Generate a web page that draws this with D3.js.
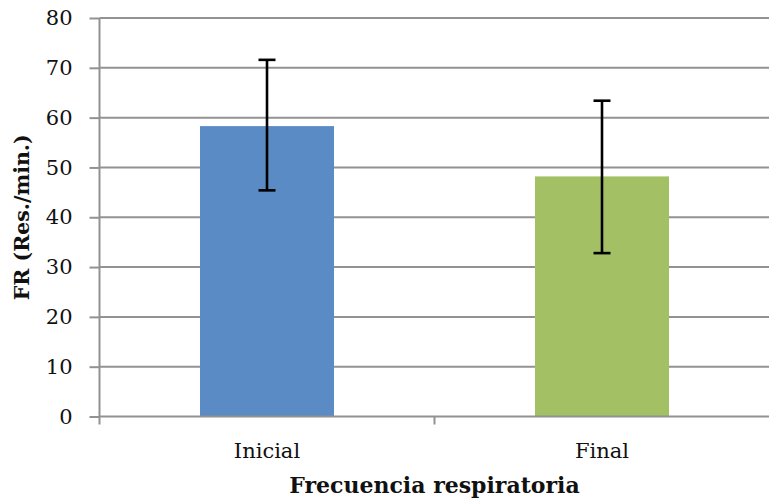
<!DOCTYPE html>
<html>
<head>
<meta charset="utf-8">
<script src="https://cdn.jsdelivr.net/npm/d3@7"></script>
<style>
  body { margin: 0; background: #fff; }
  .axis text { font-family: "DejaVu Serif", serif; font-size: 21px; fill: #111; }
  .axis path, .axis line { stroke: #929292; stroke-width: 2; }
</style>
</head>
<body>
<div id="chart"></div>
<script>
// data
var categories = ["Inicial", "Final"];
var means = [58.3, 48.2];
var errLow = [45.4, 32.8];
var errHigh = [71.6, 63.4];
var barColors = ["#5b8bc4", "#a3c164"];
var yTicks = [0, 10, 20, 30, 40, 50, 60, 70, 80];

var W = 769, H = 501;
var mLeft = 99.5, mRight = 769.5, mTop = 18, mBottom = 416.5;

var svg = d3.select("#chart").append("svg")
  .attr("width", W)
  .attr("height", H);

var y = d3.scaleLinear().domain([0, 80]).range([mBottom, mTop]);
var x = d3.scaleBand().domain(categories).range([mLeft, mRight])
  .paddingInner(0.6).paddingOuter(0.3);
var xb = d3.scaleBand().domain(categories).range([mLeft, mRight]); // full bands for tick marks

// gridlines
svg.append("g")
  .selectAll("line")
  .data(yTicks.filter(d => d > 0))
  .enter().append("line")
  .attr("x1", mLeft).attr("x2", mRight)
  .attr("y1", d => y(d)).attr("y2", d => y(d))
  .attr("stroke", "#929292")
  .attr("stroke-width", 2);

// bars
svg.append("g")
  .selectAll("rect")
  .data(categories)
  .enter().append("rect")
  .attr("x", d => x(d))
  .attr("width", x.bandwidth())
  .attr("y", (d, i) => y(means[i]))
  .attr("height", (d, i) => y(0) - y(means[i]))
  .attr("fill", (d, i) => barColors[i]);

// y axis
svg.append("g")
  .attr("class", "axis")
  .attr("transform", "translate(" + mLeft + ",0)")
  .call(d3.axisLeft(y).tickValues(yTicks).tickSize(10).tickPadding(17).tickSizeOuter(0))
  .call(g => g.select(".domain").attr("d", "M0," + mTop + "V" + (mBottom + 8)));

// x axis
var xAxis = svg.append("g")
  .attr("class", "axis")
  .attr("transform", "translate(0," + mBottom + ")");
xAxis.append("line")
  .attr("x1", mLeft).attr("x2", mRight)
  .attr("y1", 0).attr("y2", 0);
xAxis.selectAll("line.tk")
  .data(categories.slice(1))
  .enter().append("line")
  .attr("class", "tk")
  .attr("x1", d => xb(d)).attr("x2", d => xb(d))
  .attr("y1", 0).attr("y2", 8);
xAxis.selectAll("text")
  .data(categories)
  .enter().append("text")
  .attr("x", d => x(d) + x.bandwidth() / 2)
  .attr("y", 41)
  .attr("text-anchor", "middle")
  .text(d => d);

// error bars
var eb = svg.append("g").attr("stroke", "#000").attr("stroke-width", 2.6);
categories.forEach(function (c, i) {
  var cx = x(c) + x.bandwidth() / 2;
  eb.append("line").attr("x1", cx).attr("x2", cx)
    .attr("y1", y(errLow[i])).attr("y2", y(errHigh[i]));
  eb.append("line").attr("x1", cx - 8.5).attr("x2", cx + 8.5)
    .attr("y1", y(errLow[i])).attr("y2", y(errLow[i]));
  eb.append("line").attr("x1", cx - 8.5).attr("x2", cx + 8.5)
    .attr("y1", y(errHigh[i])).attr("y2", y(errHigh[i]));
});

// axis titles
svg.append("text")
  .attr("x", (mLeft + mRight) / 2)
  .attr("y", 493)
  .attr("text-anchor", "middle")
  .attr("font-family", "DejaVu Serif, serif")
  .attr("font-weight", "bold")
  .attr("font-size", "22px")
  .attr("fill", "#111")
  .text("Frecuencia respiratoria");

svg.append("text")
  .attr("transform", "translate(29," + ((mTop + mBottom) / 2) + ") rotate(-90)")
  .attr("text-anchor", "middle")
  .attr("font-family", "DejaVu Serif, serif")
  .attr("font-weight", "bold")
  .attr("font-size", "20.5px")
  .attr("fill", "#111")
  .text("FR (Res./min.)");
</script>
</body>
</html>
